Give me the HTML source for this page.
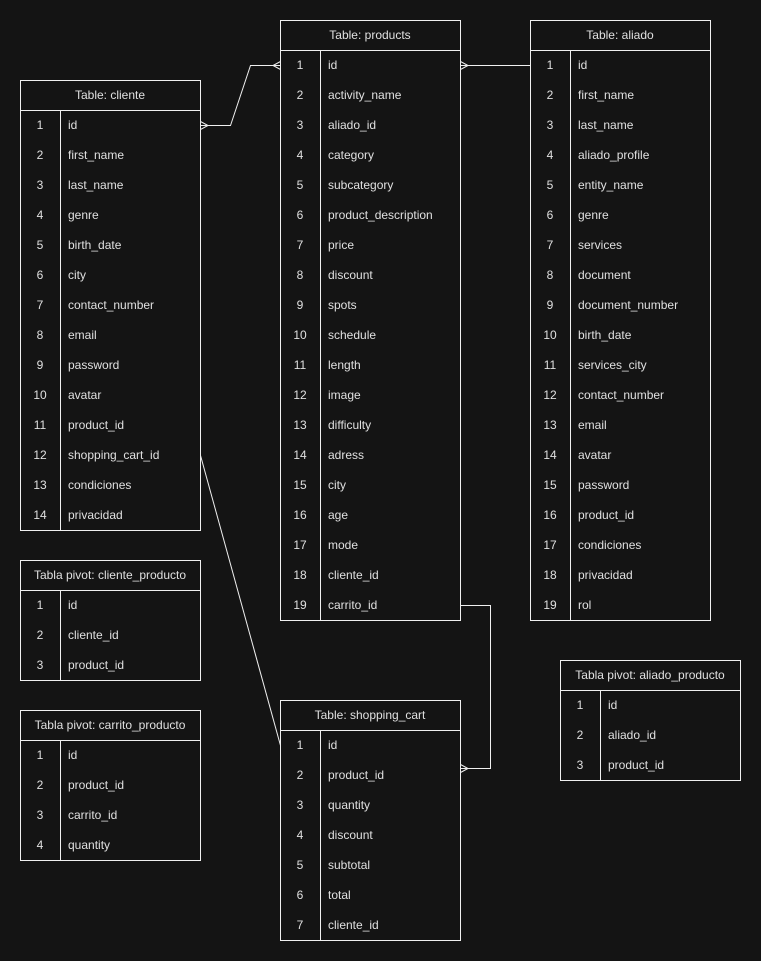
<!DOCTYPE html>
<html><head><meta charset="utf-8"><style>
html,body{margin:0;padding:0;background:#141414;}
svg{display:block}
text{font-family:"Liberation Sans",Arial,sans-serif;font-size:12px;fill:#e0e0e0;}
.h{text-anchor:middle}
.n{text-anchor:middle}
rect,line,path,polyline{fill:none;stroke:#f0f0f0;stroke-width:1}
</style></head><body>
<svg width="761" height="961" viewBox="0 0 761 961" xmlns="http://www.w3.org/2000/svg">
<rect x="0" y="0" width="761" height="961" style="fill:#141414;stroke:none"/>

<!-- connectors -->
<polyline points="200.5,125.5 230.5,125.5 250.5,65.5 280.5,65.5"/>
<path d="M200.5,121.5 L208,125.5 L200.5,129.5"/>
<path d="M280.5,61.5 L273,65.5 L280.5,69.5"/>
<line x1="460.5" y1="65.5" x2="530.5" y2="65.5"/>
<path d="M460.5,61.5 L468,65.5 L460.5,69.5"/>
<line x1="200.5" y1="455.5" x2="280.5" y2="745.5"/>
<polyline points="460.5,605.5 490.5,605.5 490.5,768.5 460.5,768.5"/>
<path d="M460.5,764.5 L468,768.5 L460.5,772.5"/>

<!-- cliente -->
<g>
<rect x="20.5" y="80.5" width="180" height="450"/>
<line x1="20.5" y1="110.5" x2="200.5" y2="110.5"/>
<line x1="60.5" y1="110.5" x2="60.5" y2="530.5"/>
<text class="h" x="110" y="99">Table: cliente</text>
<text class="n" x="40" y="129">1</text><text x="68" y="129">id</text>
<text class="n" x="40" y="159">2</text><text x="68" y="159">first_name</text>
<text class="n" x="40" y="189">3</text><text x="68" y="189">last_name</text>
<text class="n" x="40" y="219">4</text><text x="68" y="219">genre</text>
<text class="n" x="40" y="249">5</text><text x="68" y="249">birth_date</text>
<text class="n" x="40" y="279">6</text><text x="68" y="279">city</text>
<text class="n" x="40" y="309">7</text><text x="68" y="309">contact_number</text>
<text class="n" x="40" y="339">8</text><text x="68" y="339">email</text>
<text class="n" x="40" y="369">9</text><text x="68" y="369">password</text>
<text class="n" x="40" y="399">10</text><text x="68" y="399">avatar</text>
<text class="n" x="40" y="429">11</text><text x="68" y="429">product_id</text>
<text class="n" x="40" y="459">12</text><text x="68" y="459">shopping_cart_id</text>
<text class="n" x="40" y="489">13</text><text x="68" y="489">condiciones</text>
<text class="n" x="40" y="519">14</text><text x="68" y="519">privacidad</text>
</g>

<!-- products -->
<g>
<rect x="280.5" y="20.5" width="180" height="600"/>
<line x1="280.5" y1="50.5" x2="460.5" y2="50.5"/>
<line x1="320.5" y1="50.5" x2="320.5" y2="620.5"/>
<text class="h" x="370" y="39">Table: products</text>
<text class="n" x="300" y="69">1</text><text x="328" y="69">id</text>
<text class="n" x="300" y="99">2</text><text x="328" y="99">activity_name</text>
<text class="n" x="300" y="129">3</text><text x="328" y="129">aliado_id</text>
<text class="n" x="300" y="159">4</text><text x="328" y="159">category</text>
<text class="n" x="300" y="189">5</text><text x="328" y="189">subcategory</text>
<text class="n" x="300" y="219">6</text><text x="328" y="219">product_description</text>
<text class="n" x="300" y="249">7</text><text x="328" y="249">price</text>
<text class="n" x="300" y="279">8</text><text x="328" y="279">discount</text>
<text class="n" x="300" y="309">9</text><text x="328" y="309">spots</text>
<text class="n" x="300" y="339">10</text><text x="328" y="339">schedule</text>
<text class="n" x="300" y="369">11</text><text x="328" y="369">length</text>
<text class="n" x="300" y="399">12</text><text x="328" y="399">image</text>
<text class="n" x="300" y="429">13</text><text x="328" y="429">difficulty</text>
<text class="n" x="300" y="459">14</text><text x="328" y="459">adress</text>
<text class="n" x="300" y="489">15</text><text x="328" y="489">city</text>
<text class="n" x="300" y="519">16</text><text x="328" y="519">age</text>
<text class="n" x="300" y="549">17</text><text x="328" y="549">mode</text>
<text class="n" x="300" y="579">18</text><text x="328" y="579">cliente_id</text>
<text class="n" x="300" y="609">19</text><text x="328" y="609">carrito_id</text>
</g>

<!-- aliado -->
<g>
<rect x="530.5" y="20.5" width="180" height="600"/>
<line x1="530.5" y1="50.5" x2="710.5" y2="50.5"/>
<line x1="570.5" y1="50.5" x2="570.5" y2="620.5"/>
<text class="h" x="620" y="39">Table: aliado</text>
<text class="n" x="550" y="69">1</text><text x="578" y="69">id</text>
<text class="n" x="550" y="99">2</text><text x="578" y="99">first_name</text>
<text class="n" x="550" y="129">3</text><text x="578" y="129">last_name</text>
<text class="n" x="550" y="159">4</text><text x="578" y="159">aliado_profile</text>
<text class="n" x="550" y="189">5</text><text x="578" y="189">entity_name</text>
<text class="n" x="550" y="219">6</text><text x="578" y="219">genre</text>
<text class="n" x="550" y="249">7</text><text x="578" y="249">services</text>
<text class="n" x="550" y="279">8</text><text x="578" y="279">document</text>
<text class="n" x="550" y="309">9</text><text x="578" y="309">document_number</text>
<text class="n" x="550" y="339">10</text><text x="578" y="339">birth_date</text>
<text class="n" x="550" y="369">11</text><text x="578" y="369">services_city</text>
<text class="n" x="550" y="399">12</text><text x="578" y="399">contact_number</text>
<text class="n" x="550" y="429">13</text><text x="578" y="429">email</text>
<text class="n" x="550" y="459">14</text><text x="578" y="459">avatar</text>
<text class="n" x="550" y="489">15</text><text x="578" y="489">password</text>
<text class="n" x="550" y="519">16</text><text x="578" y="519">product_id</text>
<text class="n" x="550" y="549">17</text><text x="578" y="549">condiciones</text>
<text class="n" x="550" y="579">18</text><text x="578" y="579">privacidad</text>
<text class="n" x="550" y="609">19</text><text x="578" y="609">rol</text>
</g>

<!-- cliente_producto -->
<g>
<rect x="20.5" y="560.5" width="180" height="120"/>
<line x1="20.5" y1="590.5" x2="200.5" y2="590.5"/>
<line x1="60.5" y1="590.5" x2="60.5" y2="680.5"/>
<text class="h" x="110" y="579">Tabla pivot: cliente_producto</text>
<text class="n" x="40" y="609">1</text><text x="68" y="609">id</text>
<text class="n" x="40" y="639">2</text><text x="68" y="639">cliente_id</text>
<text class="n" x="40" y="669">3</text><text x="68" y="669">product_id</text>
</g>

<!-- carrito_producto -->
<g>
<rect x="20.5" y="710.5" width="180" height="150"/>
<line x1="20.5" y1="740.5" x2="200.5" y2="740.5"/>
<line x1="60.5" y1="740.5" x2="60.5" y2="860.5"/>
<text class="h" x="110" y="729">Tabla pivot: carrito_producto</text>
<text class="n" x="40" y="759">1</text><text x="68" y="759">id</text>
<text class="n" x="40" y="789">2</text><text x="68" y="789">product_id</text>
<text class="n" x="40" y="819">3</text><text x="68" y="819">carrito_id</text>
<text class="n" x="40" y="849">4</text><text x="68" y="849">quantity</text>
</g>

<!-- shopping_cart -->
<g>
<rect x="280.5" y="700.5" width="180" height="240"/>
<line x1="280.5" y1="730.5" x2="460.5" y2="730.5"/>
<line x1="320.5" y1="730.5" x2="320.5" y2="940.5"/>
<text class="h" x="370" y="719">Table: shopping_cart</text>
<text class="n" x="300" y="749">1</text><text x="328" y="749">id</text>
<text class="n" x="300" y="779">2</text><text x="328" y="779">product_id</text>
<text class="n" x="300" y="809">3</text><text x="328" y="809">quantity</text>
<text class="n" x="300" y="839">4</text><text x="328" y="839">discount</text>
<text class="n" x="300" y="869">5</text><text x="328" y="869">subtotal</text>
<text class="n" x="300" y="899">6</text><text x="328" y="899">total</text>
<text class="n" x="300" y="929">7</text><text x="328" y="929">cliente_id</text>
</g>

<!-- aliado_producto -->
<g>
<rect x="560.5" y="660.5" width="180" height="120"/>
<line x1="560.5" y1="690.5" x2="740.5" y2="690.5"/>
<line x1="600.5" y1="690.5" x2="600.5" y2="780.5"/>
<text class="h" x="650" y="679">Tabla pivot: aliado_producto</text>
<text class="n" x="580" y="709">1</text><text x="608" y="709">id</text>
<text class="n" x="580" y="739">2</text><text x="608" y="739">aliado_id</text>
<text class="n" x="580" y="769">3</text><text x="608" y="769">product_id</text>
</g>
</svg>
</body></html>
